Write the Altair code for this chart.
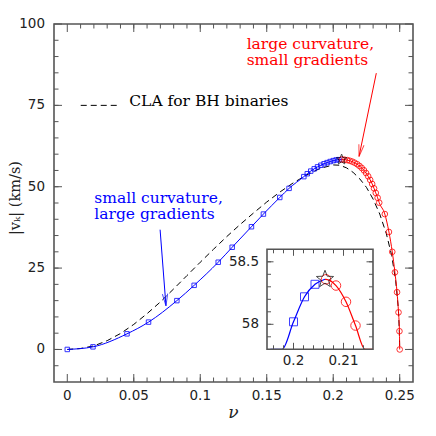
import math
import altair as alt
import pandas as pd

# ---------------- data ----------------
blue_nu = [0.0, 0.0193, 0.0449, 0.0611, 0.0824, 0.0954, 0.1135, 0.1240, 0.1385, 0.1475,
           0.1598, 0.1668, 0.1779, 0.1805, 0.1831, 0.1857, 0.1882, 0.1907, 0.1931, 0.1954,
           0.1977, 0.2000, 0.2022, 0.2043]
blue_v = [0.0, 0.8, 4.8, 8.4, 15.0, 19.7, 26.8, 31.4, 37.7, 41.6,
          46.7, 49.5, 53.1, 54.0, 54.8, 55.5, 56.1, 56.6, 57.05, 57.41,
          57.74, 58.02, 58.22, 58.32]

red_nu = [0.2065, 0.2085, 0.2105, 0.2124, 0.2143, 0.2161, 0.2180, 0.2197, 0.2214, 0.2231,
          0.2247, 0.2263, 0.2278, 0.2293, 0.2307, 0.2320, 0.2334, 0.2346, 0.2388, 0.2419,
          0.2444, 0.2464, 0.2480, 0.2491, 0.2498, 0.2500]
red_v = [58.36, 58.31, 58.18, 57.99, 57.72, 57.38, 56.92, 56.40, 55.78, 55.05,
         54.20, 53.20, 52.10, 50.85, 49.50, 48.10, 46.60, 45.10, 41.6, 36.1,
         30.0, 23.7, 17.6, 11.4, 5.6, 0.0]

cla_nu = [0, 0.01, 0.02, 0.03, 0.04, 0.05, 0.06, 0.07, 0.08, 0.09, 0.10, 0.11, 0.12, 0.13,
          0.14, 0.15, 0.16, 0.17, 0.18, 0.19, 0.20, 0.205, 0.21, 0.215, 0.22, 0.225, 0.23,
          0.235, 0.24, 0.244, 0.247, 0.249, 0.2497, 0.25]
cla_v = [0, 0.3, 1.1, 2.7, 4.9, 7.7, 11.0, 14.6, 18.6, 22.7, 26.8, 30.8, 34.7, 38.4,
         41.9, 45.3, 48.4, 51.2, 53.6, 55.6, 56.7, 56.6, 55.8, 54.4, 52.4, 49.8, 46.2,
         41.6, 35.5, 28.8, 21.0, 12.5, 6.0, 0.0]

star_nu = [0.2063]
star_v = [58.36]

legend_nu = [0.0101, 0.0376]
legend_v = [75.0, 75.0]

x_major = [0, 0.05, 0.1, 0.15, 0.2, 0.25]
x_labels = ["0", "0.05", "0.1", "0.15", "0.2", "0.25"]
y_major = [0, 25, 50, 75, 100]
y_labels = ["0", "25", "50", "75", "100"]
x_minor = [round(0.01 * i, 2) for i in range(1, 26)]
y_minor = [5 * i for i in range(-1, 20)]
x_title = "ν"
y_title = "|vₖ| (km/s)"

inset_x_major = [0.2, 0.21]
inset_x_labels = ["0.2", "0.21"]
inset_y_major = [58.0, 58.5]
inset_y_labels = ["58", "58.5"]
inset_x_minor = [round(0.196 + 0.002 * i, 3) for i in range(10)]
inset_y_minor = [round(57.9 + 0.1 * i, 1) for i in range(7)]

notes_text = ["large curvature,", "small gradients", "small curvature,", "large gradients",
              "CLA for BH binaries"]
notes_nu = [0.1349, 0.1349, 0.0203, 0.0203, 0.0466]
notes_v = [92.3, 87.4, 44.9, 40.0, 74.8]
notes_color = ["#ff0000", "#ff0000", "#0000ff", "#0000ff", "#000000"]

arrow_x0 = [0.0698, 0.2324]
arrow_y0 = [36.8, 84.9]
arrow_x1 = [0.0742, 0.2194]
arrow_y1 = [13.4, 59.3]
arrow_color = ["#0000ff", "#ff0000"]

# ---------------- layout ----------------
W, H = 359, 358
X_DOMAIN = [-0.01, 0.26]
Y_DOMAIN = [-10, 100]
IX_DOMAIN = [0.1947, 0.2159]
IY_DOMAIN = [57.8, 58.6]
IX_RANGE = [213, 319]
IY_RANGE = [325.3, 225.3]

BLUE = "#0000ff"
RED = "#ff0000"
FRAME = "#555555"
LABEL = "#222222"
SANS = "DejaVu Sans"
SERIF = "DejaVu Serif"

xs = alt.Scale(domain=X_DOMAIN, nice=False, zero=False)
ys = alt.Scale(domain=Y_DOMAIN, nice=False, zero=False)
ixs = alt.Scale(domain=IX_DOMAIN, range=IX_RANGE, nice=False, zero=False, clamp=True)
iys = alt.Scale(domain=IY_DOMAIN, range=IY_RANGE, nice=False, zero=False, clamp=True)

star_pts = []
for i in range(10):
    r = 1.0 if i % 2 == 0 else 0.42
    a = -math.pi / 2 + i * math.pi / 5
    star_pts.append(f"{r * math.cos(a):.3f},{r * math.sin(a):.3f}")
STAR_PATH = "M" + " L".join(star_pts) + " Z"
HEAD_PATH = "M -0.22,-1 L 0,0 L 0.22,-1"

blue_df = pd.DataFrame({"nu": blue_nu, "v": blue_v})
blue_line_df = pd.DataFrame({"nu": blue_nu + star_nu, "v": blue_v + star_v})
red_df = pd.DataFrame({"nu": red_nu, "v": red_v})
red_line_df = pd.DataFrame({"nu": star_nu + red_nu, "v": star_v + red_v})
cla_df = pd.DataFrame({"nu": cla_nu, "v": cla_v})
star_df = pd.DataFrame({"nu": star_nu, "v": star_v})
legend_df = pd.DataFrame({"nu": legend_nu, "v": legend_v})
notes_df = pd.DataFrame({"t": notes_text, "nu": notes_nu, "v": notes_v, "c": notes_color})

sx = W / (X_DOMAIN[1] - X_DOMAIN[0])
sy = H / (Y_DOMAIN[1] - Y_DOMAIN[0])
angles = []
for a, b, c, d in zip(arrow_x0, arrow_y0, arrow_x1, arrow_y1):
    dx = (c - a) * sx
    dy = -(d - b) * sy
    angles.append((-math.degrees(math.atan2(dx, dy))) % 360)
arrows_df = pd.DataFrame({"x0": arrow_x0, "y0": arrow_y0, "x1": arrow_x1, "y1": arrow_y1,
                          "c": arrow_color, "ang": angles})

X = lambda: alt.X("nu:Q", scale=xs, axis=None)
Y = lambda: alt.Y("v:Q", scale=ys, axis=None)

# ---------------- main panel ----------------
cla = alt.Chart(cla_df).mark_line(color="black", strokeWidth=1, strokeDash=[6, 4]).encode(x=X(), y=Y())
blue_line = alt.Chart(blue_line_df).mark_line(color=BLUE, strokeWidth=1, interpolate="monotone").encode(x=X(), y=Y())
red_line = alt.Chart(red_line_df).mark_line(color=RED, strokeWidth=1, interpolate="monotone").encode(x=X(), y=Y())
blue_pts = alt.Chart(blue_df).mark_point(shape="square", size=20, color=BLUE, filled=False, strokeWidth=1, opacity=0.8).encode(x=X(), y=Y())
red_pts = alt.Chart(red_df).mark_point(shape="circle", size=32, color=RED, filled=False, strokeWidth=1, opacity=0.8).encode(x=X(), y=Y())
star = alt.Chart(star_df).mark_point(shape=STAR_PATH, size=120, color="black", filled=False, strokeWidth=1).encode(x=X(), y=Y())
legend = alt.Chart(legend_df).mark_line(color="black", strokeWidth=1, strokeDash=[6, 4]).encode(x=X(), y=Y())
notes = alt.Chart(notes_df).mark_text(align="left", baseline="alphabetic", font=SERIF, fontSize=15.5).encode(
    x=X(), y=Y(), text="t:N", color=alt.Color("c:N", scale=None))
shafts = alt.Chart(arrows_df).mark_rule(strokeWidth=1).encode(
    x=alt.X("x0:Q", scale=xs, axis=None), y=alt.Y("y0:Q", scale=ys, axis=None),
    x2="x1:Q", y2="y1:Q", color=alt.Color("c:N", scale=None))
heads = alt.Chart(arrows_df).mark_point(shape=HEAD_PATH, size=576, filled=False, strokeWidth=1).encode(
    x=alt.X("x1:Q", scale=xs, axis=None), y=alt.Y("y1:Q", scale=ys, axis=None),
    color=alt.Color("c:N", scale=None), angle=alt.Angle("ang:Q", scale=None))

xl_df = pd.DataFrame({"t": x_major, "s": x_labels})
yl_df = pd.DataFrame({"t": y_major, "s": y_labels})
x_lab = alt.Chart(xl_df).mark_text(font=SANS, fontSize=13.5, color=LABEL, baseline="middle").encode(
    x=alt.X("t:Q", scale=xs, axis=None), y=alt.value(H + 14), text="s:N")
y_lab = alt.Chart(yl_df).mark_text(font=SANS, fontSize=13.5, color=LABEL, baseline="middle", align="right").encode(
    y=alt.Y("t:Q", scale=ys, axis=None), x=alt.value(-9), text="s:N")
xt_df = pd.DataFrame({"s": [x_title]})
yt_df = pd.DataFrame({"s": [y_title]})
x_tit = alt.Chart(xt_df).mark_text(font=SERIF, fontSize=17, fontStyle="italic", color=LABEL,
                                   baseline="alphabetic").encode(
    x=alt.value(W / 2), y=alt.value(H + 36), text="s:N")
y_tit = alt.Chart(yt_df).mark_text(font=SERIF, fontSize=14.5, color=LABEL, baseline="middle",
                                   angle=270).encode(
    x=alt.value(-38), y=alt.value(174), text="s:N")


def xticks(vals, scale, ybot, ytop, length):
    df = pd.DataFrame({"t": vals})
    b = alt.Chart(df).mark_rule(color=FRAME, strokeWidth=1).encode(
        x=alt.X("t:Q", scale=scale, axis=None), y=alt.value(ybot), y2=alt.value(ybot - length))
    t = alt.Chart(df).mark_rule(color=FRAME, strokeWidth=1).encode(
        x=alt.X("t:Q", scale=scale, axis=None), y=alt.value(ytop), y2=alt.value(ytop + length))
    return [b, t]


def yticks(vals, scale, xleft, xright, length):
    df = pd.DataFrame({"t": vals})
    l = alt.Chart(df).mark_rule(color=FRAME, strokeWidth=1).encode(
        y=alt.Y("t:Q", scale=scale, axis=None), x=alt.value(xleft), x2=alt.value(xleft + length))
    r = alt.Chart(df).mark_rule(color=FRAME, strokeWidth=1).encode(
        y=alt.Y("t:Q", scale=scale, axis=None), x=alt.value(xright), x2=alt.value(xright - length))
    return [l, r]


main_ticks = (xticks(x_major, xs, H, 0, 8) + xticks(x_minor, xs, H, 0, 4.5)
              + yticks(y_major, ys, 0, W, 8) + yticks(y_minor, ys, 0, W, 4.5))

main = alt.layer(cla, *main_ticks, blue_line, red_line, blue_pts, red_pts, star, legend,
                 notes, shafts, heads, x_lab, y_lab, x_tit, y_tit)

# ---------------- inset ----------------
IX = lambda: alt.X("nu:Q", scale=ixs, axis=None)
IY = lambda: alt.Y("v:Q", scale=iys, axis=None)
box_df = pd.DataFrame({"x0": [IX_DOMAIN[0]], "x1": [IX_DOMAIN[1]], "y0": [IY_DOMAIN[0]], "y1": [IY_DOMAIN[1]]})
box_fill = alt.Chart(box_df).mark_rect(fill="white", stroke=None).encode(
    x=alt.X("x0:Q", scale=ixs, axis=None), x2="x1:Q", y=alt.Y("y0:Q", scale=iys, axis=None), y2="y1:Q")
box_frame = alt.Chart(box_df).mark_rect(fill=None, fillOpacity=0, stroke=FRAME, strokeWidth=1.6).encode(
    x=alt.X("x0:Q", scale=ixs, axis=None), x2="x1:Q", y=alt.Y("y0:Q", scale=iys, axis=None), y2="y1:Q")

line_filter = f"datum.nu >= {IX_DOMAIN[0]} && datum.nu <= 0.2165"
pt_filter = (f"datum.nu >= {IX_DOMAIN[0]} && datum.nu <= {IX_DOMAIN[1]} && "
             f"datum.v >= {IY_DOMAIN[0]} && datum.v <= {IY_DOMAIN[1]}")
i_blue_line = alt.Chart(blue_line_df).transform_filter(line_filter).mark_line(
    color=BLUE, strokeWidth=1.2, interpolate="monotone").encode(x=IX(), y=IY())
i_red_line = alt.Chart(red_line_df).transform_filter(line_filter).mark_line(
    color=RED, strokeWidth=1.2, interpolate="monotone").encode(x=IX(), y=IY())
i_blue_pts = alt.Chart(blue_df).transform_filter(pt_filter).mark_point(
    shape="square", size=64, color=BLUE, filled=False, strokeWidth=1, opacity=0.75).encode(x=IX(), y=IY())
i_red_pts = alt.Chart(red_df).transform_filter(pt_filter).mark_point(
    shape="circle", size=90, color=RED, filled=False, strokeWidth=1, opacity=0.8).encode(x=IX(), y=IY())
i_star = alt.Chart(star_df).mark_point(shape=STAR_PATH, size=330, color="black", filled=False,
                                       strokeWidth=1).encode(x=IX(), y=IY())
ixl_df = pd.DataFrame({"t": inset_x_major, "s": inset_x_labels})
iyl_df = pd.DataFrame({"t": inset_y_major, "s": inset_y_labels})
i_xlabels = alt.Chart(ixl_df).mark_text(font=SANS, fontSize=13.5, color=LABEL, baseline="middle").encode(
    x=alt.X("t:Q", scale=ixs, axis=None), y=alt.value(IY_RANGE[0] + 12), text="s:N")
i_ylabels = alt.Chart(iyl_df).mark_text(font=SANS, fontSize=13.5, color=LABEL, baseline="middle",
                                        align="right").encode(
    y=alt.Y("t:Q", scale=iys, axis=None), x=alt.value(IX_RANGE[0] - 8), text="s:N")
inset_ticks = (xticks(inset_x_major, ixs, IY_RANGE[0], IY_RANGE[1], 6.5)
               + xticks(inset_x_minor, ixs, IY_RANGE[0], IY_RANGE[1], 4)
               + yticks(inset_y_major, iys, IX_RANGE[0], IX_RANGE[1], 6.5)
               + yticks(inset_y_minor, iys, IX_RANGE[0], IX_RANGE[1], 4))

inset = alt.layer(box_fill, i_blue_line, i_red_line, i_blue_pts, i_red_pts, *inset_ticks,
                  i_xlabels, i_ylabels, box_frame, i_star)

chart = alt.layer(main, inset).resolve_scale(x="independent", y="independent").properties(
    width=W, height=H, autosize="none",
    padding={"left": 46, "top": 16, "right": 12, "bottom": 40},
).configure_view(stroke=FRAME, strokeWidth=1.6)

chart.save("out.html", embed_options={"renderer": "svg", "actions": False})
